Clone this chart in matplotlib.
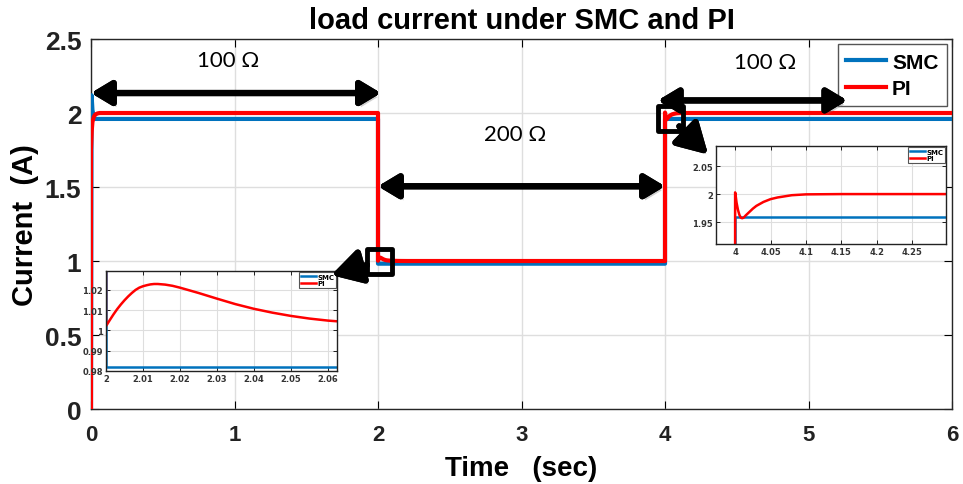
import matplotlib
matplotlib.use("Agg")
import matplotlib.pyplot as plt
import matplotlib.patheffects as pe
from matplotlib.patches import FancyArrowPatch
from matplotlib.markers import MarkerStyle

# load current (A) vs time (s) for the two controllers
t_smc = [0.0, 0.004, 0.01, 0.02, 0.03, 2.0, 2.0, 4.0, 4.0, 6.0]
i_smc = [0.0, 2.12, 2.02, 1.97, 1.96, 1.96, 0.982, 0.982, 1.96, 1.96]

t_pi = [0.0, 0.0, 0.005, 0.01, 0.02, 0.03, 0.045, 0.06, 0.1, 2.0,
        2.0, 2.001, 2.002, 2.003, 2.004, 2.005, 2.006, 2.007, 2.008, 2.009,
        2.010, 2.011, 2.012, 2.013, 2.014, 2.016, 2.018, 2.020, 2.0225, 2.025,
        2.0275, 2.030, 2.035, 2.040, 2.045, 2.050, 2.055, 2.060, 2.065, 2.08,
        2.1, 2.15, 2.2, 4.0,
        4.0, 4.0005, 4.002, 4.004, 4.006, 4.008, 4.010, 4.012, 4.015, 4.02,
        4.025, 4.03, 4.04, 4.05, 4.06, 4.07, 4.08, 4.1, 4.15, 6.0]
i_pi = [0.0, 1.75, 1.88, 1.94, 1.975, 1.99, 1.997, 2.0, 2.0, 2.0,
        1.0021, 1.0050, 1.0078, 1.0104, 1.0127, 1.0148, 1.0167, 1.0184, 1.0199, 1.0210,
        1.0217, 1.0222, 1.0226, 1.0228, 1.0228, 1.0225, 1.0219, 1.0210, 1.0197, 1.0184,
        1.0170, 1.0156, 1.0129, 1.0106, 1.0087, 1.0071, 1.0058, 1.0048, 1.0041, 1.0027,
        1.0015, 1.0004, 1.0, 1.0,
        2.003, 2.0, 1.985, 1.972, 1.963, 1.958, 1.957, 1.958, 1.962, 1.968,
        1.974, 1.979, 1.986, 1.991, 1.994, 1.996, 1.998, 1.9995, 2.0, 2.0]

x_ticks = [0, 1, 2, 3, 4, 5, 6]
y_ticks = [0, 0.5, 1, 1.5, 2, 2.5]
y_tick_labels = ['0', '0.5', '1', '1.5', '2', '2.5']

zoom1_xticks = [2, 2.01, 2.02, 2.03, 2.04, 2.05, 2.06]
zoom1_yticks = [0.98, 0.99, 1.0, 1.01, 1.02]
zoom1_ylabels = ['0.98', '0.99', '1', '1.01', '1.02']
zoom2_xticks = [4, 4.05, 4.1, 4.15, 4.2, 4.25]
zoom2_yticks = [1.95, 2.0, 2.05]
zoom2_ylabels = ['1.95', '2', '2.05']

# load resistance annotations: (label, x_text, y_text, x_start, x_end, y_arrow)
spans = [("100 Ω", 0.955, 2.355, 0.0, 2.02, 2.135),
         ("200 Ω", 2.955, 1.86, 2.0, 4.0, 1.505),
         ("100 Ω", 4.70, 2.345, 3.95, 5.27, 2.085)]

BLUE = '#0072BD'
RED = '#FF0000'
GRID = '#dedede'
FONT = 'Liberation Sans'

fig = plt.figure(figsize=(9.63, 4.85), dpi=100)
fig.patch.set_facecolor('white')
ax = fig.add_axes([0.0945, 0.1546, 0.8941, 0.7629])

ax.plot(t_smc, i_smc, color=BLUE, lw=3, label='SMC', zorder=3)
ax.plot(t_pi, i_pi, color=RED, lw=3, label='PI', zorder=4)

ax.set_xlim(0, 6)
ax.set_ylim(0, 2.5)
ax.set_xticks(x_ticks)
ax.set_xticklabels([str(v) for v in x_ticks], fontsize=16, fontweight='bold',
                   family=FONT, color='#222222')
ax.set_yticks(y_ticks)
ax.set_yticklabels(y_tick_labels, fontsize=19, fontweight='bold',
                   family=FONT, color='#222222')
ax.tick_params(direction='in', length=6, top=True, right=True, width=0.8)
ax.tick_params(axis='x', pad=11)
ax.tick_params(axis='y', pad=7)
ax.grid(True, color=GRID, lw=1)
ax.set_axisbelow(True)
for s in ax.spines.values():
    s.set_linewidth(1)
    s.set_color('#262626')

ax.set_title('load current under SMC and PI', fontsize=21, fontweight='bold',
             family=FONT, pad=8)
ax.set_xlabel('Time   (sec)', fontsize=20, fontweight='bold', family=FONT, labelpad=7)
ax.set_ylabel('Current  (A)', fontsize=21, fontweight='bold', family=FONT, labelpad=4)

leg = ax.legend(loc='upper right', prop={'weight': 'bold', 'size': 15, 'family': FONT},
                fancybox=False, edgecolor='#555555', framealpha=1,
                handlelength=1.9, handletextpad=0.3, borderpad=0.4,
                labelspacing=0.35, borderaxespad=0.25)
leg.get_frame().set_linewidth(1)

shadow = [pe.withSimplePatchShadow(offset=(2, -3), shadow_rgbFace='#777777', alpha=0.35),
          pe.Normal()]

for label, xt, yt, x0, x1, ya in spans:
    ax.text(xt, yt, label, fontsize=16, family='Lato', ha='center', va='center', zorder=6)
    arr = FancyArrowPatch((x0, ya), (x1, ya), transform=ax.transData,
                          arrowstyle='<|-|>,head_length=1.0,head_width=0.6',
                          mutation_scale=12, lw=4.5, color='black',
                          shrinkA=0, shrinkB=0, zorder=6, path_effects=shadow)
    ax.add_patch(arr)

# squares marking the zoomed regions
box_marker = MarkerStyle('s', fillstyle='none', joinstyle='round')
ax.plot([2.007, 4.035], [1.0, 1.966], ls='none', marker=box_marker, ms=18,
        mec='black', mew=3.5, zorder=7)


def zoom_axes(rect, t_lo, t_hi, y_lo, y_hi, xt, yt, ylabels):
    ins = fig.add_axes(rect, zorder=3)
    ins.plot(t_smc, i_smc, color=BLUE, lw=1.8, label='SMC')
    ins.plot(t_pi, i_pi, color=RED, lw=1.8, label='PI')
    ins.set_xlim(t_lo, t_hi)
    ins.set_ylim(y_lo, y_hi)
    ins.set_xticks(xt)
    ins.set_xticklabels([f'{v:g}' for v in xt], fontsize=6, fontweight='bold', color='#333333')
    ins.set_yticks(yt)
    ins.set_yticklabels(ylabels, fontsize=6, fontweight='bold', color='#333333')
    ins.tick_params(direction='in', length=3, top=True, right=True, pad=2, width=0.6)
    ins.grid(True, color=GRID, lw=0.8)
    ins.set_axisbelow(True)
    for s in ins.spines.values():
        s.set_linewidth(1)
        s.set_color('#222222')
    lg = ins.legend(loc='upper right', prop={'weight': 'bold', 'size': 5},
                    fancybox=False, edgecolor='#555555', framealpha=1,
                    handlelength=2.2, handletextpad=0.2, borderpad=0.2,
                    labelspacing=0.1, borderaxespad=0.2)
    lg.get_frame().set_linewidth(0.8)
    return ins


zoom_axes([0.1101, 0.2330, 0.2399, 0.2062], 2.0, 2.0625, 0.98, 1.0292,
          zoom1_xticks, zoom1_yticks, zoom1_ylabels)
zoom_axes([0.7435, 0.4948, 0.2388, 0.2021], 3.973, 4.2976, 1.911, 2.0857,
          zoom2_xticks, zoom2_yticks, zoom2_ylabels)

# pointer arrows from the squares to the zoom windows
for p0, p1 in [((1.923, 0.973), (1.675, 0.905)), ((4.10, 1.91), (4.30, 1.72))]:
    a = FancyArrowPatch(p0, p1, transform=ax.transData,
                        arrowstyle='-|>,head_length=1.4,head_width=0.8',
                        mutation_scale=13, lw=4.5, color='black',
                        shrinkA=0, shrinkB=0, zorder=10, path_effects=shadow)
    fig.add_artist(a)

fig.savefig('out.png', dpi=100, facecolor='white')
